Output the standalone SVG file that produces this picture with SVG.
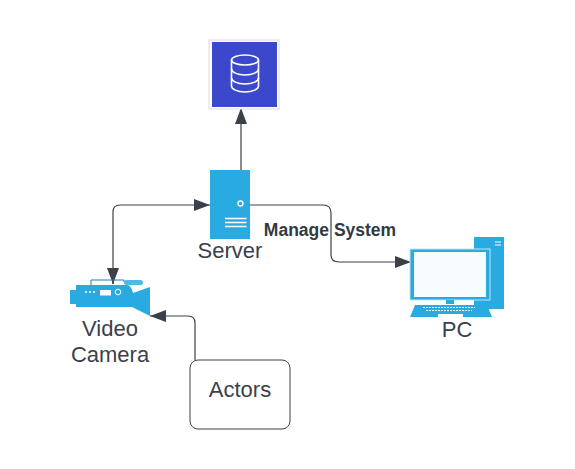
<svg xmlns="http://www.w3.org/2000/svg" width="575" height="469" viewBox="0 0 575 469">
<defs>
<marker id="arr" markerUnits="userSpaceOnUse" markerWidth="16" markerHeight="12" refX="16" refY="6" orient="auto"><path d="M0 0L16 6L0 12Z" fill="#3a414a"/></marker>
</defs>
<style>
.c{fill:none;stroke:#3a414a;stroke-width:1.2}
.t{font-family:"Liberation Sans",Arial,sans-serif;fill:#3a414a;font-size:22px;text-anchor:middle}
.b{fill:#29abe2}
.w{fill:#fff}
</style>
<rect width="575" height="469" fill="#fff"/>
<g id="connectors">
<path class="c" marker-end="url(#arr)" d="M241 170V108"/>
<path class="c" marker-end="url(#arr)" d="M113 284V212Q113 205 120 205H210"/>
<path class="c" marker-end="url(#arr)" d="M113 268V284"/>
<path class="c" marker-end="url(#arr)" d="M250 205H323Q331 205 331 213V255Q331 262 339 262H411"/>
<path class="c" marker-end="url(#arr)" d="M195 360V323Q195 316 188 316H150"/>
</g>
<g id="database">
<rect x="209" y="40" width="70" height="69" fill="#fff" stroke="#dcdce2" stroke-width="1"/>
<rect x="212" y="42" width="65" height="65" fill="#3b48cc"/>
<g fill="none" stroke="#fff" stroke-width="1.600">
<ellipse cx="245" cy="60" rx="13.500" ry="5"/>
<path d="M231.500 60V86C231.500 89 237 92 245 92S258.500 89 258.500 86V60"/>
<path d="M231.500 69C231.500 72 237 75 245 75S258.500 72 258.500 69"/>
<path d="M231.500 78C231.500 81 237 84 245 84S258.500 81 258.500 78"/>
</g>
</g>
<g id="server">
<rect class="b" x="210" y="170" width="40" height="69"/>
<circle cx="240.500" cy="203.500" r="2.500" fill="none" stroke="#fff" stroke-width="1.300"/>
<path d="M225 218.500H246.500M225 222.500H246.500M225 226.500H246.500" stroke="#fff" stroke-width="1.300"/>
<text class="t" x="230" y="258">Server</text>
</g>
<text x="330" y="236" font-family="'Liberation Sans',Arial,sans-serif" font-size="17.500" font-weight="700" fill="#333a42" text-anchor="middle">Manage System</text>
<g id="camera">
<path d="M91 286V280H124V282" fill="none" stroke="#1f7fa8" stroke-width="1"/>
<rect x="124" y="280" width="19" height="5" rx="2.500" fill="#4fb8e6"/>
<path class="b" d="M76 285H127Q131 285 133 293L150 287V316L132 307H76V304H70V290H76Z"/>
<rect x="100" y="290" width="11" height="5.500" fill="#fff"/>
<circle cx="118" cy="292" r="2.800" fill="none" stroke="#fff" stroke-width="1"/>
<path d="M85 292H96" stroke="#fff" stroke-width="1.500" stroke-dasharray="2 2"/>
<text class="t" x="110" y="336">Video</text>
<text class="t" x="110" y="362">Camera</text>
</g>
<g id="pc">
<rect class="b" x="474" y="237" width="30" height="72"/>
<path d="M495 242H501M495 245H501" stroke="#fff" stroke-width="1"/>
<rect x="410" y="249" width="80" height="51" fill="#29abe2" stroke="#bfe6f7" stroke-width="1"/>
<rect x="414" y="252" width="72" height="45" fill="#f7fcff"/>
<rect x="446" y="300" width="8" height="4" class="b"/>
<path class="b" d="M415 305H487L492 317H410Z"/>
<path d="M423 307.500H475M426 310.500H472" stroke="#fff" stroke-width="1" stroke-dasharray="2 1"/>
<rect x="438" y="314" width="25" height="3" fill="#fff"/>
<text class="t" x="457" y="337">PC</text>
</g>
<g id="actors">
<rect x="190" y="360" width="100" height="69" rx="8" fill="#fff" stroke="#3a414a" stroke-width="1"/>
<text class="t" x="240" y="397">Actors</text>
</g>
</svg>
